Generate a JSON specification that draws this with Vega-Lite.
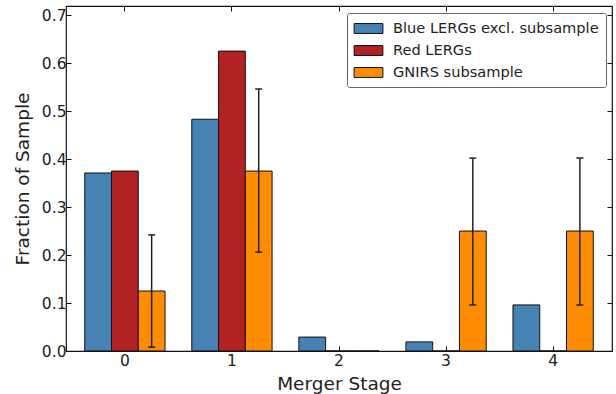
{
  "$schema": "https://vega.github.io/schema/vega-lite/v6.json",
  "width": 546,
  "height": 345,
  "autosize": {"type": "none"},
  "padding": {"left": 66, "top": 6, "right": 4, "bottom": 43},
  "background": "white",
  "config": {
    "font": "DejaVu Sans",
    "view": {"stroke": "#111111", "strokeWidth": 1.2},
    "axis": {
      "grid": false,
      "domain": false,
      "tickColor": "#111111",
      "tickWidth": 1,
      "tickSize": -5,
      "labelColor": "#222222",
      "labelFont": "DejaVu Sans",
      "labelFontSize": 15.5,
      "titleFont": "DejaVu Sans",
      "titleFontSize": 18.5,
      "titleFontWeight": "normal",
      "titleColor": "#222222"
    }
  },
  "data": {
    "values": [
      {"stage": "0", "series": "Blue LERGs excl. subsample", "value": 0.371},
      {"stage": "0", "series": "Red LERGs", "value": 0.375},
      {"stage": "0", "series": "GNIRS subsample", "value": 0.125, "lo": 0.008, "hi": 0.242},
      {"stage": "1", "series": "Blue LERGs excl. subsample", "value": 0.483},
      {"stage": "1", "series": "Red LERGs", "value": 0.625},
      {"stage": "1", "series": "GNIRS subsample", "value": 0.375, "lo": 0.206, "hi": 0.546},
      {"stage": "2", "series": "Blue LERGs excl. subsample", "value": 0.029},
      {"stage": "2", "series": "Red LERGs", "value": 0.0},
      {"stage": "2", "series": "GNIRS subsample", "value": 0.0},
      {"stage": "3", "series": "Blue LERGs excl. subsample", "value": 0.019},
      {"stage": "3", "series": "Red LERGs", "value": 0.0},
      {"stage": "3", "series": "GNIRS subsample", "value": 0.25, "lo": 0.096, "hi": 0.402},
      {"stage": "4", "series": "Blue LERGs excl. subsample", "value": 0.096},
      {"stage": "4", "series": "Red LERGs", "value": 0.0},
      {"stage": "4", "series": "GNIRS subsample", "value": 0.25, "lo": 0.096, "hi": 0.402}
    ]
  },
  "encoding": {
    "x": {
      "field": "stage",
      "type": "ordinal",
      "scale": {"paddingInner": 0, "paddingOuter": 0.05}
    },
    "xOffset": {
      "field": "series",
      "type": "nominal",
      "sort": ["Blue LERGs excl. subsample", "Red LERGs", "GNIRS subsample"],
      "scale": {"paddingInner": 0, "paddingOuter": 0.5}
    }
  },
  "layer": [
    {
      "mark": {"type": "bar", "stroke": "#111111", "strokeWidth": 1, "opacity": 1},
      "encoding": {
        "x": {
          "field": "stage",
          "type": "ordinal",
          "title": "Merger Stage",
          "axis": {"orient": "bottom", "labelAngle": 0, "bandPosition": 0.5, "labelPadding": 7, "titlePadding": 6}
        },
        "y": {
          "field": "value",
          "type": "quantitative",
          "title": "Fraction of Sample",
          "scale": {"domain": [0, 0.719], "nice": false, "zero": true},
          "axis": {"orient": "left", "values": [0, 0.1, 0.2, 0.3, 0.4, 0.5, 0.6, 0.7], "format": ".1f", "labelPadding": 5, "titlePadding": 9}
        },
        "color": {
          "field": "series",
          "type": "nominal",
          "scale": {
            "domain": ["Blue LERGs excl. subsample", "Red LERGs", "GNIRS subsample"],
            "range": ["#4682B4", "#B22222", "#FF8C00"]
          },
          "legend": {
            "title": null,
            "orient": "none",
            "legendX": 281,
            "legendY": 7,
            "fillColor": "white",
            "strokeColor": "#666666",
            "padding": 7,
            "cornerRadius": 2,
            "symbolType": "M-1.05,-0.62H2.55V0.62H-1.05Z",
            "symbolSize": 256,
            "symbolStrokeColor": "#111111",
            "symbolStrokeWidth": 1,
            "symbolOpacity": 1,
            "labelFont": "DejaVu Sans",
            "labelFontSize": 14.6,
            "labelColor": "#222222",
            "labelOffset": 22,
            "rowPadding": 6,
            "labelLimit": 400
          }
        }
      }
    },
    {
      "transform": [{"filter": "datum.lo != null"}],
      "mark": {"type": "rule", "color": "#222222", "strokeWidth": 1.5},
      "encoding": {
        "x": {
          "field": "stage",
          "type": "ordinal",
          "axis": {"orient": "top", "labels": false, "title": null, "bandPosition": 0.5}
        },
        "y": {
          "field": "lo",
          "type": "quantitative",
          "axis": {"orient": "right", "labels": false, "title": null, "values": [0, 0.1, 0.2, 0.3, 0.4, 0.5, 0.6, 0.7]}
        },
        "y2": {"field": "hi"}
      }
    },
    {
      "transform": [{"filter": "datum.lo != null"}],
      "mark": {"type": "tick", "color": "#222222", "size": 7, "thickness": 1.5, "opacity": 1},
      "encoding": {
        "x": {"field": "stage", "type": "ordinal", "axis": null},
        "y": {"field": "lo", "type": "quantitative", "axis": null}
      }
    },
    {
      "transform": [{"filter": "datum.lo != null"}],
      "mark": {"type": "tick", "color": "#222222", "size": 7, "thickness": 1.5, "opacity": 1},
      "encoding": {
        "x": {"field": "stage", "type": "ordinal", "axis": null},
        "y": {"field": "hi", "type": "quantitative", "axis": null}
      }
    }
  ],
  "resolve": {"axis": {"x": "independent", "y": "independent"}}
}
